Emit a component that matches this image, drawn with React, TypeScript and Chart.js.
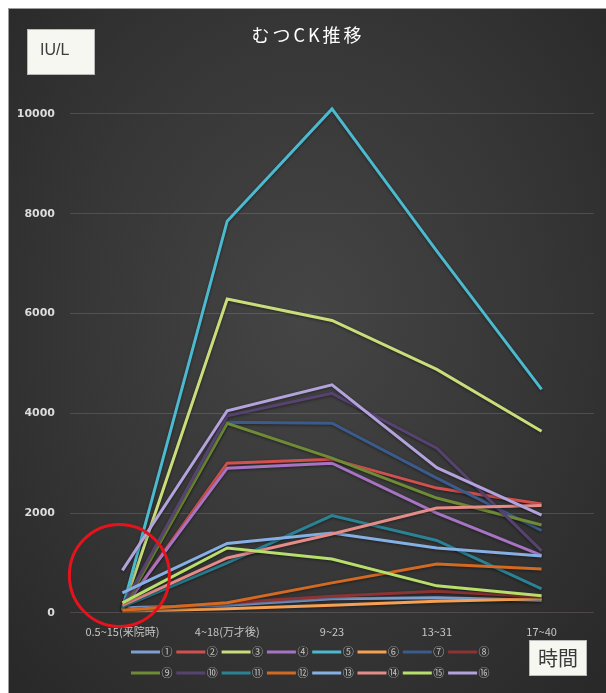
import { useEffect, useRef } from "react";
import { Chart, registerables } from "chart.js";

Chart.register(...registerables);

// Sampling windows (hours) on the x axis
const categories = ["0.5~15(来院時)", "4~18(万才後)", "9~23", "13~31", "17~40"];
const yTicks = [0, 2000, 4000, 6000, 8000, 10000];
const seriesLabels = ["①", "②", "③", "④", "⑤", "⑥", "⑦", "⑧", "⑨", "⑩", "⑪", "⑫", "⑬", "⑭", "⑮", "⑯"];

// CK values (IU/L) per patient
const s01 = [100, 150, 280, 300, 250];
const s02 = [60, 3000, 3080, 2500, 2180];
const s03 = [40, 6290, 5860, 4880, 3640];
const s04 = [80, 2900, 3000, 2000, 1150];
const s05 = [80, 7850, 10100, 7250, 4480];
const s06 = [30, 80, 150, 230, 280];
const s07 = [100, 3820, 3800, 2700, 1650];
const s08 = [50, 200, 330, 430, 320];
const s09 = [60, 3800, 3100, 2300, 1760];
const s10 = [120, 3950, 4400, 3300, 1240];
const s11 = [120, 1000, 1950, 1450, 480];
const s12 = [50, 200, 600, 980, 880];
const s13 = [400, 1390, 1600, 1300, 1140];
const s14 = [150, 1100, 1580, 2100, 2150];
const s15 = [200, 1300, 1080, 540, 340];
const s16 = [850, 4050, 4570, 2910, 1960];

const seriesValues = [s01, s02, s03, s04, s05, s06, s07, s08, s09, s10, s11, s12, s13, s14, s15, s16];
const seriesColors = [
  "#7f9fd2", "#d2504e", "#c9de7a", "#a774c4", "#4cb9cf", "#f5a052", "#3b5b8c", "#8c3434",
  "#6f8b36", "#574270", "#2a8294", "#d26a22", "#86b0e4", "#e48c88", "#b8de6c", "#b3a3dc",
];

const TITLE = "むつCK推移";
const UNIT = "IU/L";
const TIME = "時間";

const overlay = {
  id: "overlay",
  beforeDatasetsDraw(chart: any) {
    const ctx = chart.ctx;
    ctx.save();
    ctx.shadowColor = "rgba(0,0,0,0.45)";
    ctx.shadowBlur = 3;
    ctx.shadowOffsetY = 1;
  },
  afterDatasetsDraw(chart: any) {
    chart.ctx.restore();
  },
  afterDraw(chart: any) {
    const { ctx, scales } = chart;
    ctx.save();

    // title
    ctx.fillStyle = "#ffffff";
    ctx.font = '18px "Noto Sans CJK JP"';
    ctx.textAlign = "center";
    ctx.textBaseline = "middle";
    (ctx as any).letterSpacing = "3px";
    ctx.fillText(TITLE, 300, 27);
    (ctx as any).letterSpacing = "0px";

    // unit box
    ctx.fillStyle = "#f7f7f2";
    ctx.strokeStyle = "#b8b8b8";
    ctx.lineWidth = 1;
    ctx.fillRect(19, 21, 68, 46);
    ctx.strokeRect(19.5, 21.5, 67, 45);
    ctx.fillStyle = "#3c3c3c";
    ctx.font = '16px "Liberation Sans"';
    ctx.textAlign = "left";
    ctx.fillText(UNIT, 32, 43);

    // time box
    ctx.fillStyle = "#f7f7f2";
    ctx.fillRect(521, 632, 58, 36);
    ctx.strokeRect(521.5, 632.5, 57, 35);
    ctx.fillStyle = "#3a3a3a";
    ctx.font = '20px "Noto Sans CJK JP"';
    ctx.textAlign = "center";
    ctx.fillText(TIME, 550, 650);

    // legend, two rows of eight
    ctx.font = '11px "Noto Sans CJK JP"';
    chart.data.datasets.forEach((ds: any, i: number) => {
      const row = Math.floor(i / 8);
      const col = i % 8;
      const x = 123 + col * 45.3;
      const y = 644 + row * 21;
      ctx.strokeStyle = ds.borderColor;
      ctx.lineWidth = 3;
      ctx.beginPath();
      ctx.moveTo(x, y);
      ctx.lineTo(x + 29, y);
      ctx.stroke();
      ctx.fillStyle = "#c4c4c4";
      ctx.textAlign = "center";
      ctx.fillText(ds.label, x + 36, y);
    });

    // hand-drawn marker around the first sampling window
    const cx = scales.x.getPixelForValue(0) - 3;
    const cy = scales.y.getPixelForValue(750);
    ctx.strokeStyle = "#e5141c";
    ctx.lineWidth = 3;
    ctx.beginPath();
    ctx.ellipse(cx, cy, 50, 51, 0, 0, Math.PI * 2);
    ctx.stroke();

    ctx.restore();
  },
};

export default function App() {
  const canvasRef = useRef<HTMLCanvasElement | null>(null);

  useEffect(() => {
    const canvas = canvasRef.current;
    if (!canvas) return;
    const chart = new Chart(canvas, {
      type: "line",
      data: {
        labels: categories,
        datasets: seriesValues.map((values, i) => ({
          label: seriesLabels[i],
          data: values,
          borderColor: seriesColors[i],
          backgroundColor: seriesColors[i],
          borderWidth: 3,
          pointRadius: 0,
          tension: 0,
          order: seriesValues.length - 1 - i,
        })),
      },
      options: {
        animation: false,
        responsive: false,
        maintainAspectRatio: false,
        layout: { padding: { top: 81, right: 12, bottom: 43, left: 0 } },
        plugins: {
          legend: { display: false },
          title: { display: false },
          tooltip: { enabled: false },
        },
        scales: {
          x: {
            offset: true,
            grid: { display: false, drawTicks: false },
            border: { display: false },
            ticks: {
              color: "#c6c6c6",
              font: { size: 11, family: '"Noto Sans CJK JP"' },
              padding: 12,
              maxRotation: 0,
              autoSkip: false,
            },
          },
          y: {
            min: 0,
            max: 10500,
            afterFit: (s: any) => {
              s.width = 62;
            },
            afterBuildTicks: (s: any) => {
              s.ticks = yTicks.map((v) => ({ value: v }));
            },
            grid: { color: "rgba(205,170,170,0.22)", drawTicks: false, lineWidth: 1 },
            border: { display: false },
            ticks: {
              color: "#dcdcdc",
              font: { size: 11, weight: "bold", family: '"DejaVu Sans"' },
              padding: 15,
              callback: (v: any) => String(v),
            },
          },
        },
      },
      plugins: [overlay],
    });
    return () => chart.destroy();
  }, []);

  return (
    <div
      style={{
        position: "fixed",
        left: 8,
        top: 8,
        width: 598,
        height: 685,
        borderTop: "1px solid #9c9c9c",
        borderLeft: "1px solid #9c9c9c",
        boxSizing: "border-box",
        background: "radial-gradient(ellipse at 50% 45%, #454545 0%, #363636 55%, #282828 100%)",
      }}
    >
      <canvas ref={canvasRef} width={598} height={685} style={{ position: "absolute", left: -1, top: -1 }} />
    </div>
  );
}
